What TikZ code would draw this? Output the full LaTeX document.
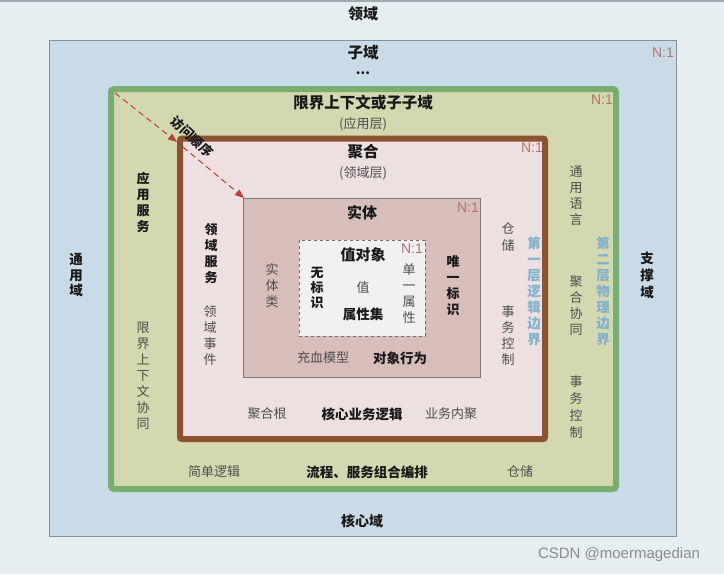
\documentclass[tikz,border=0pt]{standalone}
\usepackage{fontspec}
\setmainfont{Noto Sans CJK SC}
\newfontfamily\latf{Liberation Sans}
\usetikzlibrary{arrows.meta}
\definecolor{bgc}{RGB}{229,238,241}
\definecolor{topline}{RGB}{160,168,174}
\definecolor{blufill}{RGB}{201,219,230}
\definecolor{bluline}{RGB}{130,145,158}
\definecolor{grnfill}{RGB}{211,216,176}
\definecolor{grnline}{RGB}{122,174,110}
\definecolor{brnline}{RGB}{139,84,48}
\definecolor{brnfill}{RGB}{238,224,224}
\definecolor{entfill}{RGB}{216,190,186}
\definecolor{entline}{RGB}{130,118,118}
\definecolor{valfill}{RGB}{243,240,241}
\definecolor{valline}{RGB}{110,110,110}
\definecolor{ncol}{RGB}{176,118,112}
\definecolor{bluetxt}{RGB}{128,178,204}
\definecolor{arrc}{RGB}{192,62,50}
\definecolor{txt}{RGB}{78,78,78}
\definecolor{txtb}{RGB}{25,25,25}
\definecolor{wmk}{RGB}{140,140,140}
\tikzset{
  lbl/.style={inner sep=0pt, align=center, text=txt, font=\fontsize{13}{16}\selectfont},
  lblb/.style={inner sep=0pt, align=center, text=txtb, font=\fontsize{13.5}{16}\selectfont\bfseries},
  ttl/.style={inner sep=0pt, align=center, text=txtb, font=\fontsize{15.5}{18}\selectfont\bfseries},
  vtxt/.style={inner sep=0pt, align=center, text=txt, font=\fontsize{13}{16}\selectfont},
  vtxtb/.style={inner sep=0pt, align=center, text=txtb, font=\fontsize{13}{16}\selectfont\bfseries},
  vblue/.style={inner sep=0pt, align=center, text=bluetxt, font=\fontsize{13.5}{16}\selectfont\bfseries},
  nlbl/.style={inner sep=0pt, text=ncol, font=\latf\fontsize{14}{16}\selectfont},
  arr/.style={draw=arrc, line width=1pt, dash pattern=on 6pt off 4pt, -{Triangle[length=9pt,width=7pt]}},
}
\begin{document}
\begin{tikzpicture}[x=1pt,y=-1pt]
\useasboundingbox (0,0) rectangle (724,574);
\fill[bgc] (0,0) rectangle (724,574);
\draw[topline, line width=2pt] (0,1) -- (724,1);
% boxes
\draw[bluline, fill=blufill, line width=1pt] (49,40) rectangle (676,536);
\draw[grnline, fill=grnfill, line width=6pt, rounded corners=3pt] (111,89) rectangle (616,489);
\draw[brnline, fill=brnfill, line width=6pt, rounded corners=2pt] (180,138.5) rectangle (545,439);
\draw[entline, fill=entfill, line width=1pt] (243.5,198) rectangle (480,377);
\draw[valline, fill=valfill, line width=1pt, dashed] (299,240) rectangle (425,336);
% arrow coordinates
\coordinate (g0) at (115,93);
\coordinate (b0) at (177,142);
\coordinate (b1) at (183,147);
\coordinate (e0) at (244,198);
\draw[arr] (g0) -- (b0);
\draw[arr] (b1) -- (e0);
\node[lblb, rotate=-43, font=\fontsize{13}{16}\selectfont\bfseries] (visit) at (192,137) {访问顺序};
% N:1 labels
\node[nlbl] (n1) at (663,53) {N:1};
\node[nlbl] (n2) at (602,100) {N:1};
\node[nlbl] (n3) at (532,148) {N:1};
\node[nlbl] (n4) at (468,208) {N:1};
\node[nlbl] (n5) at (412,249) {N:1};
% horizontal labels
\node[ttl, font=\fontsize{15}{18}\selectfont\bfseries] (lingyu) at (363,14) {领域};
\node[ttl] (ziyu) at (363,53) {子域};
\node[lblb] (dots) at (363,73) {...};
\node[ttl] (bc) at (363,103) {限界上下文或子子域};
\node[lbl] (app) at (363,124) {(应用层)};
\node[ttl] (agg) at (363,152) {聚合};
\node[lbl] (dom) at (363,173) {(领域层)};
\node[ttl, font=\fontsize{15}{18}\selectfont\bfseries] (ent) at (362,213) {实体};
\node[ttl, font=\fontsize{15}{18}\selectfont\bfseries] (vo) at (363,255) {值对象};
\node[lbl] (val) at (363,288) {值};
\node[lblb] (attrs) at (363,314) {属性集};
\node[lbl] (rich) at (323,358) {充血模型};
\node[lblb] (beh) at (400,358) {对象行为};
\node[lbl] (root) at (267,414) {聚合根};
\node[lblb] (core) at (362,414) {核心业务逻辑};
\node[lbl] (cohe) at (451,414) {业务内聚};
\node[lbl] (simple) at (214,472) {简单逻辑};
\node[lblb] (flow) at (367,472) {流程、服务组合编排};
\node[lbl] (repo2) at (520,472) {仓储};
\node[lblb, font=\fontsize{14}{16}\selectfont\bfseries] (coredom) at (362,521) {核心域};
\node[inner sep=0pt, text=wmk, font=\latf\fontsize{15}{18}\selectfont] (wm) at (619,555) {CSDN @moermagedian};
% vertical labels
\node[vtxtb, font=\fontsize{13.5}{15.5}\selectfont\bfseries] (generic) at (76,275.5) {通\\用\\域};
\node[vtxtb, font=\fontsize{13.5}{17}\selectfont\bfseries] (support) at (647,275) {支\\撑\\域};
\node[vtxtb] (appsvc) at (143,202.5) {应\\用\\服\\务};
\node[vtxt] (bccoop) at (143,376) {限\\界\\上\\下\\文\\协\\同};
\node[vtxtb] (domsvc) at (211,254) {领\\域\\服\\务};
\node[vtxt] (domevt) at (210,335.5) {领\\域\\事\\件};
\node[vtxt] (entcls) at (272,286) {实\\体\\类};
\node[vtxtb, font=\fontsize{13}{15}\selectfont\bfseries] (noid) at (317,288) {无\\标\\识};
\node[vtxt] (single) at (409,294) {单\\一\\属\\性};
\node[vtxtb] (uid) at (453,286) {唯\\一\\标\\识};
\node[vtxt, font=\fontsize{13}{17}\selectfont] (repo1) at (508,237.5) {仓\\储};
\node[vtxt] (tx1) at (508,335.5) {事\\务\\控\\制};
\node[vblue] (lay1) at (534,291.5) {第\\一\\层\\逻\\辑\\边\\界};
\node[vtxt] (lang) at (576,195.5) {通\\用\\语\\言};
\node[vtxt] (aggco) at (576,306) {聚\\合\\协\\同};
\node[vtxt, font=\fontsize{13}{17}\selectfont] (tx2) at (576,407) {事\\务\\控\\制};
\node[vblue] (lay2) at (603,291.5) {第\\二\\层\\物\\理\\边\\界};
\end{tikzpicture}
\end{document}
